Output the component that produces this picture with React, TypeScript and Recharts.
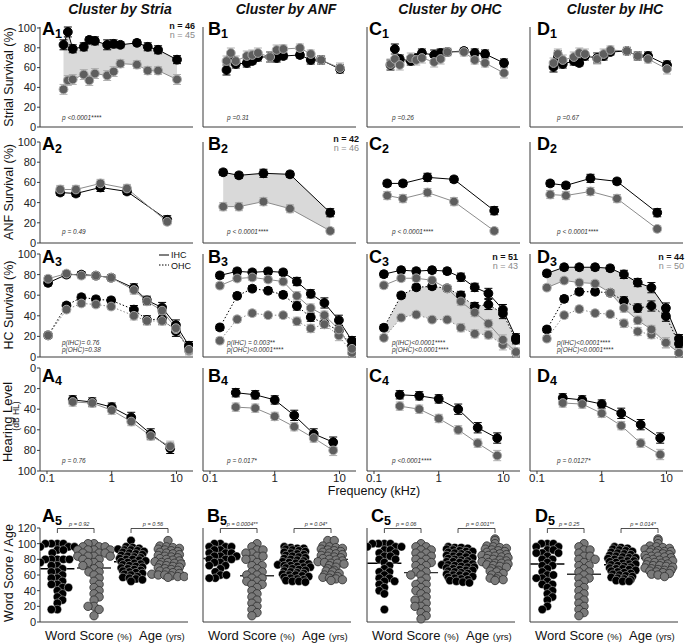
import React from 'react';
import { ComposedChart, Line, Area, XAxis, YAxis, ErrorBar, Scatter, ReferenceLine } from 'recharts';

const FONT = '"Liberation Sans", Arial, Helvetica, sans-serif';

const COLUMN_TITLES = ['Cluster by Stria', 'Cluster by ANF', 'Cluster by OHC', 'Cluster by IHC'];
const COLUMN_LETTERS = ['A', 'B', 'C', 'D'];
const ROW_LABELS = ['Strial Survival (%)', 'ANF Survival (%)', 'HC Survival (%)'];
const X_TICKS = [0.1, 1, 10];
const PCT_TICKS = [0, 20, 40, 60, 80, 100];
const SCORE_TICKS = [0, 20, 40, 60, 80, 100, 120];

// ---- Row 1: strial survival ----
const STRIA_FREQ = [0.18, 0.21, 0.25, 0.37, 0.45, 0.55, 0.85, 1.07, 1.36, 2.45, 3.6, 5.2, 10.2];
const A1_K = [83, 96, 79, 81, 88, 87, 83, 84, 83, 85, 81, 78, 68];
const A1_G = [38, 47, 48, 53, 47, 54, 52, 56, 64, 63, 57, 57, 48];
const B1_K = [57, 69, 63, 64, 66, 70, 70, 69, 71, 72, 67, 67, 58];
const B1_G = [66, 74, 66, 71, 72, 74, 70, 77, 78, 79, 73, 67, 59];
const C1_K = [62, 78, 68, 66, 69, 74, 72, 74, 75, 76, 74, 73, 64];
const C1_G = [63, 68, 62, 69, 67, 69, 65, 68, 75, 75, 67, 64, 54];
const D1_K = [60, 71, 63, 66, 64, 71, 69, 71, 75, 76, 71, 71, 62];
const D1_G = [64, 73, 67, 70, 74, 73, 68, 73, 77, 76, 71, 68, 58];
const STRIA_ERR_K = [5, 5, 4, 4, 3, 4, 5, 4, 3, 3, 4, 4, 4];
const STRIA_ERR_G = [5, 5, 5, 5, 5, 5, 5, 5, 4, 4, 4, 4, 5];

// ---- Row 2: ANF survival ----
const ANF_FREQ = [0.16, 0.28, 0.67, 1.72, 7.2];
const A2_K = [50, 49, 55, 51, 23];
const A2_G = [53, 53, 59, 54, 21];
const B2_K = [70, 67, 69, 68, 30];
const B2_G = [36, 36, 41, 34, 12];
const C2_K = [59, 59, 65, 63, 32];
const C2_G = [47, 44, 50, 41, 12];
const D2_K = [59, 57, 64, 61, 30];
const D2_G = [48, 47, 51, 44, 14];
const ANF_ERR_K = [3, 3, 4, 3, 4];
const ANF_ERR_G = [4, 4, 4, 4, 3];

// ---- Row 3: hair cell survival ----
const A3_FREQ = [0.104, 0.2, 0.34, 0.57, 0.98, 2.2, 3.5, 6.0, 9.8, 15.6];
const HC_FREQ = [0.142, 0.263, 0.45, 0.79, 1.35, 2.2, 3.6, 5.85, 9.8, 15.6];
const A3_IHC_K = [72, 80, 80, 79, 77, 67, 55, 48, 31, 11];
const A3_IHC_G = [76, 81, 79, 79, 77, 65, 54, 45, 28, 7];
const A3_OHC_K = [21, 50, 58, 56, 55, 46, 36, 37, 25, 9];
const A3_OHC_G = [21, 46, 52, 51, 49, 40, 35, 35, 27, 6];
const B3_IHC_K = [79, 83, 82, 83, 82, 73, 61, 52, 35, 15];
const B3_IHC_G = [69, 76, 77, 75, 73, 59, 47, 40, 26, 7];
const B3_OHC_K = [28, 59, 66, 64, 60, 49, 38, 32, 25, 10];
const B3_OHC_G = [15, 36, 42, 40, 40, 34, 27, 31, 20, 3];
const C3_IHC_K = [80, 84, 83, 84, 83, 77, 67, 61, 45, 17];
const C3_IHC_G = [69, 76, 76, 74, 66, 53, 42, 31, 15, 3];
const C3_OHC_K = [27, 59, 67, 68, 66, 59, 48, 50, 41, 15];
const C3_OHC_G = [17, 37, 40, 35, 35, 27, 21, 20, 10, 2];
const D3_IHC_K = [81, 87, 87, 87, 86, 80, 72, 67, 47, 17];
const D3_IHC_G = [67, 74, 72, 71, 62, 47, 35, 26, 13, 3];
const D3_OHC_K = [26, 56, 63, 63, 62, 54, 47, 49, 39, 12];
const D3_OHC_G = [17, 40, 46, 42, 41, 32, 24, 21, 13, 3];
const HC_ERR_K = [3, 3, 3, 3, 3, 4, 4, 5, 5, 4];
const HC_ERR_G = [3, 3, 3, 3, 3, 4, 4, 4, 5, 4];

// ---- Row 4: hearing level ----
const AUDIO_FREQ = [0.25, 0.5, 1, 2, 4, 8];
const A4_K = [31, 33, 38, 48, 64, 78];
const A4_G = [33, 34, 41, 52, 66, 76];
const B4_K = [24, 26, 31, 46, 64, 72];
const B4_G = [38, 39, 47, 57, 68, 80];
const C4_K = [26, 27, 30, 40, 58, 68];
const C4_G = [37, 40, 49, 60, 73, 85];
const D4_K = [29, 31, 35, 44, 55, 68];
const D4_G = [34, 35, 44, 56, 73, 84];
const HL_ERR_K = [4, 4, 4, 5, 5, 5];
const HL_ERR_G = [4, 4, 4, 4, 4, 5];

// ---- Row 5: word score / age ----
const A_WS_K = [100, 100, 100, 100, 96, 96, 96, 92, 92, 88, 80, 80, 80, 80, 80, 76, 72, 72, 68, 64, 64, 60, 56, 56, 52, 48, 48, 44, 44, 40, 36, 32, 28, 24, 16, 16];
const A_WS_G = [100, 100, 96, 96, 96, 92, 92, 92, 92, 88, 88, 88, 84, 84, 84, 84, 80, 80, 76, 76, 72, 72, 68, 64, 64, 60, 56, 52, 48, 44, 40, 36, 32, 28, 20, 20, 16, 8];
const A_AGE_K = [104, 96, 95, 94, 93, 92, 92, 91, 90, 89, 88, 87, 86, 85, 84, 83, 82, 81, 80, 80, 79, 78, 77, 76, 75, 74, 73, 72, 71, 70, 69, 68, 67, 66, 65, 64, 63, 62, 61, 60, 58, 57, 56, 55, 54, 52];
const A_AGE_G = [104, 97, 96, 95, 94, 93, 92, 91, 90, 89, 88, 87, 86, 85, 84, 83, 82, 81, 80, 79, 78, 77, 76, 76, 75, 74, 73, 72, 71, 70, 69, 68, 67, 66, 65, 64, 63, 62, 61, 60, 60, 59, 58, 58, 57];
const B_WS_K = [100, 100, 96, 96, 96, 92, 92, 88, 88, 88, 84, 84, 84, 80, 80, 80, 76, 76, 72, 72, 68, 64, 60, 60, 56, 56];
const B_WS_G = [100, 96, 92, 92, 88, 88, 84, 84, 80, 80, 76, 72, 72, 68, 64, 64, 60, 60, 56, 56, 52, 52, 48, 48, 44, 40, 36, 32, 28, 24, 20, 16, 12, 8];
const B_AGE_K = [96, 95, 94, 94, 93, 92, 91, 90, 89, 88, 87, 86, 85, 84, 83, 82, 81, 80, 79, 78, 77, 76, 75, 75, 74, 73, 72, 72, 71, 70, 70, 69, 68, 67, 66, 65, 64, 63, 62, 61, 60, 60, 59, 58, 57, 56, 55, 54, 53, 52, 52, 51];
const B_AGE_G = [104, 104, 97, 96, 95, 94, 93, 92, 91, 90, 89, 88, 87, 86, 85, 84, 83, 82, 81, 80, 79, 78, 77, 76, 75, 75, 74, 72, 70, 68, 66, 65, 64, 62, 60, 60, 58, 57, 56, 55, 54, 53];
const C_WS_K = [100, 100, 100, 100, 96, 96, 96, 92, 92, 88, 88, 84, 84, 80, 80, 76, 72, 68, 64, 64, 60, 56, 56, 52, 52, 48, 44, 40, 36, 16];
const C_WS_G = [100, 96, 96, 92, 92, 88, 88, 84, 84, 80, 80, 76, 76, 72, 72, 68, 64, 64, 60, 60, 56, 52, 48, 48, 44, 40, 40, 36, 32, 28, 28, 24, 20, 20, 16, 12, 8, 4];
const C_AGE_K = [96, 95, 95, 94, 93, 92, 91, 90, 90, 89, 88, 87, 86, 85, 84, 84, 83, 82, 81, 80, 79, 78, 77, 77, 76, 75, 74, 73, 73, 72, 71, 70, 70, 69, 68, 67, 66, 66, 65, 64, 63, 62, 61, 60, 60, 59, 58, 57, 56, 55, 54, 53, 52, 51, 50];
const C_AGE_G = [106, 104, 100, 97, 96, 95, 94, 93, 92, 91, 90, 89, 88, 87, 86, 85, 85, 84, 83, 82, 81, 80, 79, 78, 77, 76, 75, 75, 74, 73, 72, 71, 70, 68, 66, 65, 64, 62, 60, 58, 56, 55, 54, 53];
const D_WS_K = [100, 100, 100, 96, 96, 92, 92, 88, 88, 88, 84, 80, 80, 76, 72, 72, 68, 64, 60, 60, 56, 56, 52, 48, 48, 44, 40, 36, 32, 28, 20, 16];
const D_WS_G = [100, 96, 92, 92, 88, 84, 84, 80, 80, 76, 72, 72, 68, 64, 64, 60, 56, 56, 52, 48, 44, 40, 36, 32, 28, 24, 20, 16, 12, 8];
const D_AGE_K = [96, 95, 94, 93, 92, 91, 90, 89, 88, 87, 86, 85, 84, 83, 82, 82, 81, 80, 79, 78, 78, 77, 76, 75, 74, 74, 73, 72, 71, 70, 69, 68, 68, 67, 66, 65, 64, 63, 62, 61, 60, 59, 58, 57, 56, 55, 54, 53, 52, 52];
const D_AGE_G = [106, 104, 100, 97, 96, 95, 94, 93, 92, 91, 90, 90, 89, 88, 87, 86, 85, 84, 84, 83, 82, 81, 80, 79, 78, 78, 77, 76, 75, 74, 73, 72, 72, 71, 70, 69, 68, 67, 66, 66, 65, 64, 63, 62, 61, 60, 58];
const A_MEANS = [68, 69, 77, 78];
const B_MEANS = [81, 59, 74, 80];
const C_MEANS = [75, 63, 74, 82];
const D_MEANS = [74, 61, 73, 81];

// ---- Annotations ----
const P_ROW1 = ['p <0.0001****', 'p =0.31', 'p =0.26', 'p =0.67'];
const P_ROW2 = ['p = 0.49', 'p < 0.0001****', 'p < 0.0001****', 'p < 0.0001****'];
const P_ROW3 = [
  ['p(IHC)= 0.76', 'p(OHC)=0.38'],
  ['p(IHC) = 0.003**', 'p(OHC)<0.0001****'],
  ['p(IHC)<0.0001****', 'p(OHC)<0.0001****'],
  ['p(IHC)<0.0001****', 'p(OHC)<0.0001****'],
];
const P_ROW4 = ['p = 0.76', 'p = 0.017*', 'p <0.0001****', 'p = 0.0127*'];
const P_ROW5 = [
  ['p = 0.92', 'p = 0.56'],
  ['p = 0.0004**', 'p = 0.04*'],
  ['p = 0.06', 'p = 0.001**'],
  ['p = 0.25', 'p = 0.014*'],
];

// ---- Layout ----
const PLOT_X = [40, 203, 367, 530];
const PLOT_W = 153;
const ROW_Y = [27, 142, 254, 368];
const ROW_H = [100, 101, 103, 103];
const ROW5_Y = 528;
const ROW5_H = 94;
const ROW5_W = 148;
const YW = 34;
const MT = 8;
const MR = 8;
const LABEL_X = [42, 208, 369, 537];
const LABEL_BASE = [35, 150, 263, 382, 522];
const P_DX = [22, 24, 25, 27];
const GROUP_X = [0.47, 1.46, 2.46, 3.46];

const AXIS = '#3a3a3a';
const GRAY_FILL = '#5e5e5e';
const GRAY_RING = '#aaaaaa';
const SHADE = '#d9d9d9';

type Ser = { key: string; values: number[]; tone: 'k' | 'g'; dashed?: boolean };

function makeDot(tone: 'k' | 'g') {
  return (p: any) => (
    <circle
      key={`dot-${p.index}`}
      cx={p.cx}
      cy={p.cy}
      r={4.4}
      fill={tone === 'k' ? '#000' : GRAY_FILL}
      stroke={tone === 'k' ? '#000' : GRAY_RING}
      strokeWidth={1}
    />
  );
}

function FreqPanel(props: {
  col: number;
  row: number;
  freq: number[];
  series: Ser[];
  errK: number[];
  errG: number[];
  shade?: [string, string];
}) {
  const { col, row, freq, series, errK, errG, shade } = props;
  const data = freq.map((f, i) => {
    const o: any = { f };
    series.forEach((s) => {
      o[s.key] = s.values[i];
      o[s.key + 'E'] = (s.tone === 'k' ? errK : errG)[i];
    });
    return o;
  });
  const isBottom = row === 3;
  const xh = isBottom ? 22 : 8;
  const h = ROW_H[row];
  return (
    <div style={{ position: 'absolute', left: PLOT_X[col] - YW, top: ROW_Y[row] - MT }}>
      <ComposedChart
        width={YW + PLOT_W + MR}
        height={MT + h + xh}
        data={data}
        margin={{ top: MT, right: MR, bottom: 0, left: 0 }}
      >
        <XAxis
          dataKey="f"
          type="number"
          scale="log"
          domain={[0.078, 18]}
          allowDataOverflow
          ticks={X_TICKS}
          interval={0}
          height={xh}
          tickSize={3}
          tickMargin={0}
          axisLine={{ stroke: AXIS }}
          tickLine={{ stroke: AXIS }}
          tick={isBottom ? { fontSize: 11.5, fill: '#222', fontFamily: FONT } : false}
          tickFormatter={(v: number) => String(v)}
        />
        <YAxis
          type="number"
          domain={[0, 100]}
          ticks={PCT_TICKS}
          interval={0}
          reversed={isBottom}
          width={YW}
          tickSize={3}
          tickMargin={1}
          axisLine={{ stroke: AXIS }}
          tickLine={{ stroke: AXIS }}
          tick={col === 0 ? { fontSize: 11, fill: '#222', fontFamily: FONT } : false}
        />
        {shade && (
          <Area
            type="linear"
            dataKey={(d: any) => [d[shade[0]], d[shade[1]]]}
            fill={SHADE}
            fillOpacity={1}
            stroke="none"
            dot={false}
            activeDot={false}
            isAnimationActive={false}
          />
        )}
        {series.map((s) => (
          <Line
            key={s.key}
            dataKey={s.key}
            type="linear"
            stroke={s.tone === 'k' ? '#000' : '#8c8c8c'}
            strokeWidth={1}
            strokeDasharray={s.dashed ? '1.5 2' : undefined}
            dot={makeDot(s.tone)}
            activeDot={false}
            isAnimationActive={false}
          >
            <ErrorBar
              dataKey={s.key + 'E'}
              width={4}
              direction="y"
              stroke={s.tone === 'k' ? '#000' : '#b0b0b0'}
              strokeWidth={1}
            />
          </Line>
        ))}
      </ComposedChart>
    </div>
  );
}

// beeswarm layout (px offsets) used for the word scores
function swarm(values: number[], pxPerUnit: number, d: number): number[] {
  const order = values.map((_, i) => i).sort((a, b) => values[b] - values[a]);
  const placed: { x: number; y: number }[] = [];
  const out = new Array(values.length).fill(0);
  let flip = 1;
  for (const i of order) {
    const y = values[i] * pxPerUnit;
    const near = placed.filter((p) => Math.abs(p.y - y) < d);
    const cands = [0];
    for (const p of near) {
      const dx = Math.sqrt(d * d - (p.y - y) * (p.y - y));
      cands.push(p.x + dx, p.x - dx);
    }
    cands.sort((a, b) => Math.abs(a) - Math.abs(b) || flip * (b - a));
    let chosen = 0;
    for (const c of cands) {
      if (near.every((p) => (p.x - c) * (p.x - c) + (p.y - y) * (p.y - y) >= d * d - 0.01)) {
        chosen = c;
        break;
      }
    }
    flip = -flip;
    placed.push({ x: chosen, y });
    out[i] = chosen;
  }
  return out;
}

// dot-plot layout used for the ages: values binned into rows, each row spread symmetrically
function rowOffsets(values: number[], binUnits: number, spacingPx: number): number[] {
  const bins = new Map<number, number[]>();
  values.forEach((v, i) => {
    const b = Math.round(v / binUnits);
    if (!bins.has(b)) bins.set(b, []);
    bins.get(b)!.push(i);
  });
  const out = new Array(values.length).fill(0);
  let shift = 0;
  Array.from(bins.keys())
    .sort((a, b) => b - a)
    .forEach((b) => {
      const idx = bins.get(b)!;
      const n = idx.length;
      const s = n > 1 ? shift : 0;
      idx.forEach((i, j) => {
        out[i] = (j - (n - 1) / 2) * spacingPx + s;
      });
      shift = shift === 0 ? spacingPx * 0.25 : 0;
    });
  return out;
}

function ScorePanel(props: { col: number; groups: number[][]; means: number[] }) {
  const { col, groups, means } = props;
  const pxPerX = ROW5_W / 4;
  const pxPerY = ROW5_H / 120;
  const sets = groups.map((vals, gi) => {
    const off = gi < 2 ? swarm(vals, pxPerY, 6) : rowOffsets(vals, 4, 6.5);
    return vals.map((v, i) => ({ x: GROUP_X[gi] + off[i] / pxPerX, y: v }));
  });
  const blackShape = (p: any) => (
    <circle cx={p.cx} cy={p.cy} r={4.2} fill="#000" stroke="#fff" strokeWidth={0.4} />
  );
  const grayShape = (p: any) => (
    <circle cx={p.cx} cy={p.cy} r={4.2} fill="#7a7a7a" stroke="#2e2e2e" strokeWidth={0.8} />
  );
  return (
    <div style={{ position: 'absolute', left: PLOT_X[col] - YW, top: ROW5_Y - MT }}>
      <ComposedChart
        width={YW + ROW5_W + MR}
        height={MT + ROW5_H + 10}
        margin={{ top: MT, right: MR, bottom: 0, left: 0 }}
      >
        <XAxis
          dataKey="x"
          type="number"
          domain={[0, 4]}
          allowDataOverflow
          height={10}
          tick={false}
          tickLine={false}
          axisLine={{ stroke: AXIS }}
        />
        <YAxis
          dataKey="y"
          type="number"
          domain={[0, 120]}
          ticks={SCORE_TICKS}
          interval={0}
          width={YW}
          tickSize={3}
          tickMargin={1}
          axisLine={{ stroke: AXIS }}
          tickLine={{ stroke: AXIS }}
          tick={col === 0 ? { fontSize: 11, fill: '#222', fontFamily: FONT } : false}
        />
        {sets.map((d, gi) => (
          <Scatter
            key={gi}
            data={d}
            shape={gi % 2 === 0 ? blackShape : grayShape}
            isAnimationActive={false}
          />
        ))}
        {means.map((m, gi) => (
          <ReferenceLine
            key={'m' + gi}
            segment={[
              { x: GROUP_X[gi] - 0.46, y: m },
              { x: GROUP_X[gi] + 0.46, y: m },
            ]}
            stroke={gi % 2 === 0 ? '#000' : '#333'}
            strokeWidth={1.4}
            ifOverflow="visible"
          />
        ))}
      </ComposedChart>
    </div>
  );
}

function Overlay() {
  const texts: React.ReactNode[] = [];
  const titleCx = [120, 286, 450, 615];
  COLUMN_TITLES.forEach((t, c) =>
    texts.push(
      <text key={'t' + c} x={titleCx[c]} y={14} textAnchor="middle" fontSize={14} fontWeight="bold" fontStyle="italic" fill="#111">
        {t}
      </text>
    )
  );
  // panel labels
  for (let c = 0; c < 4; c++) {
    for (let r = 0; r < 5; r++) {
      const lx = r === 4 ? [42, 207, 371, 535][c] : LABEL_X[c];
      texts.push(
        <text key={`l${c}${r}`} x={lx} y={LABEL_BASE[r]} fontSize={18} fontWeight="bold" fill="#000">
          {COLUMN_LETTERS[c]}
          <tspan fontSize={12.5} dy={2.5}>{r + 1}</tspan>
        </text>
      );
    }
  }
  // row labels
  const rowCy = [77, 192, 305];
  ROW_LABELS.forEach((t, i) =>
    texts.push(
      <text key={'r' + i} x={9} y={rowCy[i]} transform={`rotate(-90 9 ${rowCy[i]})`} textAnchor="middle" dominantBaseline="central" fontSize={12.5} fill="#111">
        {t}
      </text>
    )
  );
  texts.push(
    <text key="hl" x={7} y={422} transform="rotate(-90 7 422)" textAnchor="middle" dominantBaseline="central" fontSize={13} fill="#111">
      Hearing Level
    </text>,
    <text key="dbhl" x={16} y={416} transform="rotate(-90 16 416)" textAnchor="middle" dominantBaseline="central" fontSize={8.5} fill="#111">
      (dB HL)
    </text>,
    <text key="wsa" x={9} y={573} transform="rotate(-90 9 573)" textAnchor="middle" dominantBaseline="central" fontSize={12.5} fill="#111">
      Word Score / Age
    </text>,
    <text key="freq" x={374} y={495} textAnchor="middle" fontSize={12.5} fill="#111">
      Frequency (kHz)
    </text>
  );
  // n labels
  const nLabels: [number, number, string, string][] = [
    [195, 29, 'n = 46', 'n = 45'],
    [359, 142, 'n = 42', 'n = 46'],
    [518, 260, 'n = 51', 'n = 43'],
    [684, 260, 'n = 44', 'n = 50'],
  ];
  nLabels.forEach(([x, y, a, b], i) =>
    texts.push(
      <text key={'na' + i} x={x} y={y} textAnchor="end" fontSize={9} fontWeight="bold" fill="#111">
        {a}
      </text>,
      <text key={'nb' + i} x={x} y={y + 9} textAnchor="end" fontSize={9} fill="#8a8a8a">
        {b}
      </text>
    )
  );
  // p values rows 1-4
  const pStyle = { fontSize: 6.5, fontStyle: 'italic' as const, fill: '#333' };
  for (let c = 0; c < 4; c++) {
    const x = PLOT_X[c] + P_DX[c];
    texts.push(
      <text key={'p1' + c} x={x} y={120} {...pStyle}>{P_ROW1[c]}</text>,
      <text key={'p2' + c} x={x} y={234} {...pStyle}>{P_ROW2[c]}</text>,
      <text key={'p3a' + c} x={x} y={345} {...pStyle}>{P_ROW3[c][0]}</text>,
      <text key={'p3b' + c} x={x} y={352} {...pStyle}>{P_ROW3[c][1]}</text>,
      <text key={'p4' + c} x={x} y={463} {...pStyle}>{P_ROW4[c]}</text>
    );
    // row 5 brackets
    const pxPerX = ROW5_W / 4;
    const gx = GROUP_X.map((g) => PLOT_X[c] + g * pxPerX);
    [0, 1].forEach((k) => {
      const x1 = gx[k * 2];
      const x2 = gx[k * 2 + 1];
      texts.push(
        <path key={`br${c}${k}`} d={`M${x1} 533 V528.5 H${x2} V533`} fill="none" stroke="#222" strokeWidth={0.8} />,
        <text key={`pt${c}${k}`} x={(x1 + x2) / 2 + 3.5} y={526} textAnchor="middle" fontSize={5.6} fontStyle="italic" fill="#333">
          {P_ROW5[c][k]}
        </text>
      );
    });
    texts.push(
      <text key={'ws' + c} x={PLOT_X[c] + 5} y={640} fontSize={13} fill="#111">
        Word Score <tspan fontSize={9.5}>(%)</tspan>
      </text>,
      <text key={'ag' + c} x={PLOT_X[c] + 99} y={640} fontSize={13} fill="#111">
        Age <tspan fontSize={9.5}>(yrs)</tspan>
      </text>
    );
  }
  // legend A3
  texts.push(
    <line key="lg1" x1={159} x2={169} y1={255} y2={255} stroke="#000" strokeWidth={1} />,
    <text key="lg1t" x={171} y={258} fontSize={9} fill="#111">IHC</text>,
    <line key="lg2" x1={159} x2={169} y1={265} y2={265} stroke="#000" strokeWidth={1} strokeDasharray="1.5 1.5" />,
    <text key="lg2t" x={171} y={268.5} fontSize={9} fill="#111">OHC</text>
  );
  return (
    <svg width={688} height={643} style={{ position: 'absolute', left: 0, top: 0, pointerEvents: 'none' }} fontFamily={FONT}>
      {texts}
    </svg>
  );
}

export default function App() {
  const row1: [number[], number[]][] = [[A1_K, A1_G], [B1_K, B1_G], [C1_K, C1_G], [D1_K, D1_G]];
  const row2: [number[], number[]][] = [[A2_K, A2_G], [B2_K, B2_G], [C2_K, C2_G], [D2_K, D2_G]];
  const row3: number[][][] = [
    [A3_IHC_K, A3_IHC_G, A3_OHC_K, A3_OHC_G],
    [B3_IHC_K, B3_IHC_G, B3_OHC_K, B3_OHC_G],
    [C3_IHC_K, C3_IHC_G, C3_OHC_K, C3_OHC_G],
    [D3_IHC_K, D3_IHC_G, D3_OHC_K, D3_OHC_G],
  ];
  const row4: [number[], number[]][] = [[A4_K, A4_G], [B4_K, B4_G], [C4_K, C4_G], [D4_K, D4_G]];
  const row5 = [
    { groups: [A_WS_K, A_WS_G, A_AGE_K, A_AGE_G], means: A_MEANS },
    { groups: [B_WS_K, B_WS_G, B_AGE_K, B_AGE_G], means: B_MEANS },
    { groups: [C_WS_K, C_WS_G, C_AGE_K, C_AGE_G], means: C_MEANS },
    { groups: [D_WS_K, D_WS_G, D_AGE_K, D_AGE_G], means: D_MEANS },
  ];
  const shade3: ([string, string] | undefined)[] = [undefined, undefined, ['gO', 'kO'], ['gI', 'kI']];
  return (
    <div style={{ position: 'absolute', left: 0, top: 0, width: 688, height: 643, background: '#fff', fontFamily: FONT, overflow: 'hidden' }}>
      {row1.map(([k, g], c) => (
        <FreqPanel key={'r1' + c} col={c} row={0} freq={STRIA_FREQ} errK={STRIA_ERR_K} errG={STRIA_ERR_G}
          series={[{ key: 'k', values: k, tone: 'k' }, { key: 'g', values: g, tone: 'g' }]}
          shade={c === 0 ? ['g', 'k'] : undefined} />
      ))}
      {row2.map(([k, g], c) => (
        <FreqPanel key={'r2' + c} col={c} row={1} freq={ANF_FREQ} errK={ANF_ERR_K} errG={ANF_ERR_G}
          series={[{ key: 'k', values: k, tone: 'k' }, { key: 'g', values: g, tone: 'g' }]}
          shade={c === 1 ? ['g', 'k'] : undefined} />
      ))}
      {row3.map(([kI, gI, kO, gO], c) => (
        <FreqPanel key={'r3' + c} col={c} row={2} freq={c === 0 ? A3_FREQ : HC_FREQ} errK={HC_ERR_K} errG={HC_ERR_G}
          series={[
            { key: 'kO', values: kO, tone: 'k', dashed: true },
            { key: 'gO', values: gO, tone: 'g', dashed: true },
            { key: 'kI', values: kI, tone: 'k' },
            { key: 'gI', values: gI, tone: 'g' },
          ]}
          shade={shade3[c]} />
      ))}
      {row4.map(([k, g], c) => (
        <FreqPanel key={'r4' + c} col={c} row={3} freq={AUDIO_FREQ} errK={HL_ERR_K} errG={HL_ERR_G}
          series={[{ key: 'k', values: k, tone: 'k' }, { key: 'g', values: g, tone: 'g' }]} />
      ))}
      {row5.map((p, c) => (
        <ScorePanel key={'r5' + c} col={c} groups={p.groups} means={p.means} />
      ))}
      <Overlay />
    </div>
  );
}
